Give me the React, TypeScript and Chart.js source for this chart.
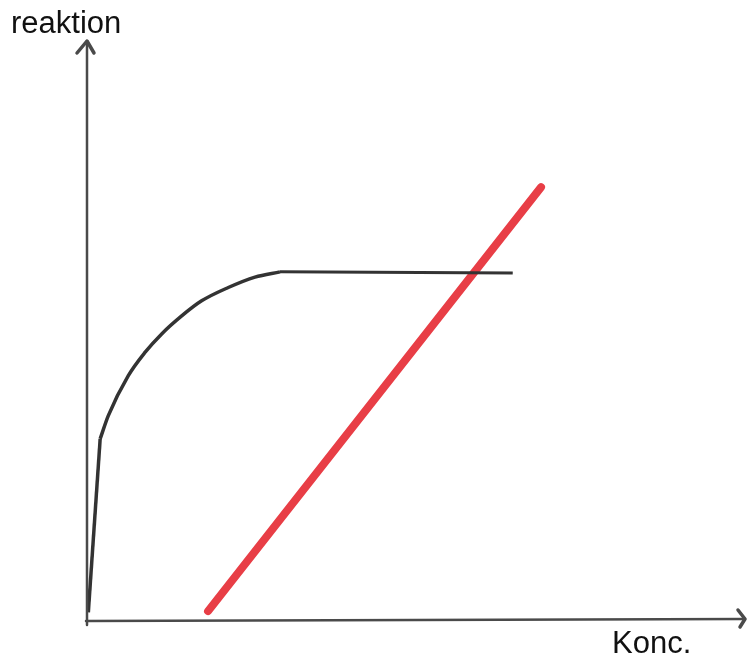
import React, { useEffect, useRef } from "react";
import { Chart, registerables } from "chart.js";

Chart.register(...registerables);

// Hand-drawn saturation curve (black) and linear response (red)
const riseX = [0.2, 2.0];
const riseY = [1.5, 31.4];
const curveX = [2.0, 3.24, 6.28, 8.81, 11.35, 14.39, 17.42, 21.47, 25.53, 29.33];
const curveY = [31.4, 35.4, 42.3, 46.3, 49.5, 52.6, 55.2, 57.5, 59.3, 60.2];
const plateauX = [29.33, 64.7];
const plateauY = [60.2, 60.0];
const linearX = [18.4, 69.0];
const linearY = [1.7, 74.8];

const yTitle = "reaktion";
const xTitle = "Konc.";

const toPts = (xs: number[], ys: number[]) => xs.map((x, i) => ({ x, y: ys[i] }));

const axesPlugin = {
  id: "handAxes",
  afterDraw(chart: any) {
    const { ctx, scales } = chart;
    const xs = scales.x;
    const ys = scales.y;
    const x0 = xs.getPixelForValue(0);
    const y0 = ys.getPixelForValue(0);
    const top = ys.getPixelForValue(ys.max);
    const right = xs.getPixelForValue(xs.max);
    ctx.save();
    ctx.strokeStyle = "#4a4a4a";
    ctx.lineWidth = 2.5;
    ctx.lineCap = "round";
    ctx.lineJoin = "round";
    // y axis
    ctx.beginPath();
    ctx.moveTo(x0, y0 + 4);
    ctx.lineTo(x0, top);
    ctx.stroke();
    // x axis
    ctx.beginPath();
    ctx.moveTo(x0 - 1, y0);
    ctx.lineTo(right, y0 - 2);
    ctx.stroke();
    // arrow heads
    ctx.lineWidth = 3.5;
    ctx.beginPath();
    ctx.moveTo(x0 - 10, top + 12);
    ctx.lineTo(x0, top);
    ctx.lineTo(x0 + 7, top + 12);
    ctx.stroke();
    ctx.beginPath();
    ctx.moveTo(right - 7, y0 - 11);
    ctx.lineTo(right, y0 - 2);
    ctx.lineTo(right - 5, y0 + 6);
    ctx.stroke();
    // labels
    ctx.fillStyle = "#111";
    ctx.font = "31px 'Liberation Sans', Arial, sans-serif";
    ctx.textBaseline = "alphabetic";
    ctx.textAlign = "left";
    ctx.fillText(yTitle, 11, 33);
    ctx.fillText(xTitle, 612, 653);
    ctx.restore();
  },
};

export default function App() {
  const ref = useRef<HTMLCanvasElement | null>(null);
  useEffect(() => {
    document.body.style.margin = "0";
    if (!ref.current) return;
    const chart = new Chart(ref.current, {
      type: "line",
      data: {
        datasets: [
          {
            data: toPts(riseX, riseY),
            borderColor: "#333333",
            borderWidth: 3.5,
            pointRadius: 0,
            tension: 0,
          },
          {
            data: toPts(curveX, curveY),
            borderColor: "#333333",
            borderWidth: 3.5,
            pointRadius: 0,
            cubicInterpolationMode: "monotone",
          },
          {
            data: toPts(plateauX, plateauY),
            borderColor: "#333333",
            borderWidth: 3,
            pointRadius: 0,
            tension: 0,
          },
          {
            data: toPts(linearX, linearY),
            borderColor: "rgb(232,62,70)",
            borderWidth: 8,
            borderCapStyle: "round",
            pointRadius: 0,
            tension: 0,
          },
        ],
      },
      options: {
        animation: false,
        responsive: false,
        maintainAspectRatio: false,
        layout: { padding: { left: 87, right: 4, top: 41, bottom: 36 } },
        plugins: { legend: { display: false }, tooltip: { enabled: false }, title: { display: false } },
        scales: {
          x: { type: "linear", min: 0, max: 100, display: false },
          y: { type: "linear", min: 0, max: 100, display: false },
        },
      },
      plugins: [axesPlugin],
    });
    return () => chart.destroy();
  }, []);
  return (
    <div style={{ width: 749, height: 657, background: "#fff" }}>
      <canvas ref={ref} width={749} height={657} style={{ display: "block" }} />
    </div>
  );
}
